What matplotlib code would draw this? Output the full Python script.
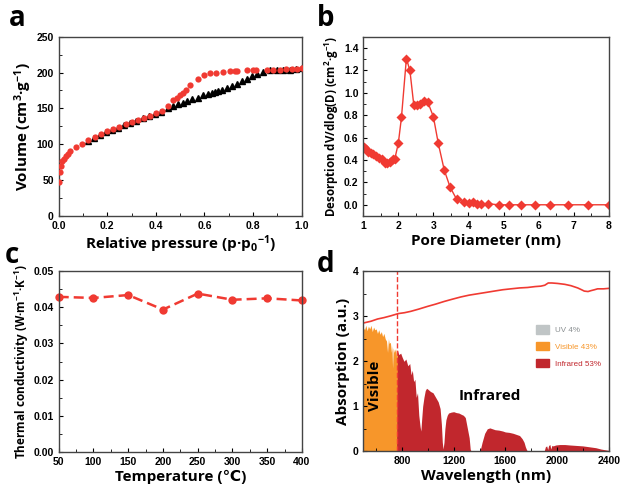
import matplotlib
matplotlib.use('Agg')
import matplotlib.pyplot as plt
from matplotlib.patches import Patch
from matplotlib.ticker import MultipleLocator
import numpy as np

plt.rcParams['font.family'] = ['Liberation Sans', 'DejaVu Sans']
plt.rcParams['font.weight'] = 'bold'
plt.rcParams['mathtext.fontset'] = 'custom'
plt.rcParams['mathtext.bf'] = 'Open Sans:bold'
plt.rcParams['mathtext.rm'] = 'Open Sans:bold'
plt.rcParams['mathtext.default'] = 'bf'

RED = '#f03a32'

# ---- a: N2 isotherm
des_x = [0.003, 0.006, 0.01, 0.015, 0.021, 0.028, 0.037, 0.047, 0.071, 0.095, 0.122,
         0.15, 0.174, 0.2, 0.225, 0.25, 0.277, 0.3, 0.325, 0.351, 0.376, 0.4, 0.427,
         0.451, 0.472, 0.486, 0.5, 0.513, 0.524, 0.54, 0.575, 0.598, 0.623, 0.647,
         0.675, 0.705, 0.726, 0.735, 0.776, 0.8, 0.812, 0.856, 0.883, 0.91, 0.935,
         0.96, 0.98, 1.0]
des_y = [47, 62, 70, 76, 80, 84, 87, 90, 96, 100, 106, 110, 114, 118, 121, 124, 128,
         131, 134, 137, 140, 143, 147, 153, 162, 165, 169, 172, 176, 183, 191, 196,
         199, 200, 201, 202, 202, 202, 203, 203, 203, 204, 204, 204, 205, 205, 205, 206]
ads_x = [0.12, 0.145, 0.17, 0.195, 0.22, 0.245, 0.27, 0.295, 0.32, 0.345, 0.37, 0.395,
         0.42, 0.451, 0.472, 0.492, 0.51, 0.53, 0.55, 0.573, 0.595, 0.616, 0.63, 0.643,
         0.657, 0.671, 0.691, 0.712, 0.733, 0.753, 0.774, 0.794, 0.818, 0.842, 0.87,
         0.897, 0.925, 0.952, 0.975, 1.0]
ads_y = [105, 109, 113, 117, 120, 123, 127, 130, 133, 136, 139, 142, 145, 151, 153,
         156, 158, 160, 163, 164, 168, 170, 172, 173, 174, 176, 178, 181, 184, 188,
         191, 195, 198, 201, 203, 203, 204, 204, 205, 206]

# ---- b: pore size distribution
pore_d = [1.03, 1.08, 1.14, 1.22, 1.29, 1.37, 1.46, 1.53, 1.62, 1.69, 1.77, 1.84, 1.90,
          2.0, 2.09, 2.23, 2.33, 2.44, 2.53, 2.63, 2.72, 2.84, 3.0, 3.14, 3.31, 3.48,
          3.66, 3.88, 4.03, 4.14, 4.24, 4.36, 4.57, 4.86, 5.17, 5.5, 5.9, 6.33, 6.83,
          7.4, 8.0]
pore_v = [0.518, 0.494, 0.474, 0.465, 0.453, 0.435, 0.417, 0.405, 0.375, 0.369, 0.384,
          0.405, 0.41, 0.548, 0.78, 1.305, 1.2, 0.894, 0.888, 0.9, 0.923, 0.917, 0.786,
          0.548, 0.31, 0.155, 0.051, 0.024, 0.018, 0.024, 0.006, 0.003, 0.009, 0.0,
          0.0, 0.0, 0.0, 0.0, 0.0, 0.0, 0.0]

# ---- c: thermal conductivity
temp = [50, 100, 150, 200, 250, 300, 350, 400]
cond = [0.0428, 0.0425, 0.0433, 0.0393, 0.0437, 0.0420, 0.0424, 0.0418]

# ---- d: absorption and solar spectrum
abs_wl = [500, 560, 611, 660, 713, 771, 820, 868, 930, 998, 1060, 1127, 1190, 1256,
          1320, 1385, 1450, 1514, 1580, 1643, 1710, 1772, 1830, 1875, 1905, 1932, 1960,
          2004, 2060, 2108, 2160, 2190, 2211, 2240, 2263, 2290, 2314, 2360, 2400]
abs_val = [2.85, 2.89, 2.94, 2.97, 3.01, 3.06, 3.08, 3.11, 3.16, 3.22, 3.27, 3.33, 3.38,
           3.43, 3.47, 3.5, 3.53, 3.56, 3.59, 3.61, 3.63, 3.64, 3.66, 3.67, 3.69, 3.74,
           3.74, 3.73, 3.71, 3.68, 3.63, 3.59, 3.56, 3.55, 3.57, 3.59, 3.61, 3.61, 3.62]
sun_wl = [500, 510, 520, 530, 540, 550, 560, 570, 580, 590, 600, 610, 620, 630, 640,
          650, 660, 670, 680, 688, 695, 700, 710, 718, 722, 727, 732, 740, 750, 758,
          765, 775, 790, 800, 815, 830, 845, 860, 870, 880, 890, 900, 910, 920, 930,
          940, 946, 952, 960, 970, 980, 990, 1000, 1020, 1040, 1060, 1080, 1095, 1105,
          1112, 1118, 1125, 1132, 1140, 1150, 1160, 1180, 1200, 1220, 1240, 1260, 1275,
          1290, 1300, 1310, 1320, 1328, 1335, 1400, 1410, 1420, 1440, 1460, 1480, 1500,
          1520, 1550, 1580, 1600, 1630, 1660, 1690, 1710, 1730, 1745, 1755, 1765, 1775,
          1900, 1910, 1920, 1928, 1935, 1945, 1952, 1960, 1970, 1990, 2020, 2060, 2100,
          2150, 2200, 2250, 2300, 2340, 2380, 2400]
sun_val = [2.75, 2.7, 2.8, 2.68, 2.78, 2.72, 2.8, 2.66, 2.76, 2.7, 2.72, 2.62, 2.7, 2.6,
           2.66, 2.55, 2.62, 2.5, 2.45, 2.2, 2.5, 2.4, 2.42, 2.2, 2.35, 1.85, 2.3, 2.2,
           2.28, 2.1, 2.25, 2.15, 2.18, 2.1, 2.0, 2.05, 1.9, 1.95, 1.7, 1.8, 1.55, 1.6,
           1.2, 1.3, 0.8, 0.55, 0.45, 0.7, 1.0, 1.2, 1.35, 1.4, 1.38, 1.33, 1.3, 1.2, 1.1,
           0.95, 0.6, 0.2, 0.05, 0.2, 0.5, 0.7, 0.8, 0.85, 0.87, 0.88, 0.86, 0.85, 0.82,
           0.8, 0.75, 0.6, 0.45, 0.3, 0.05, 0.0, 0.0, 0.08, 0.2, 0.4, 0.5, 0.52, 0.5, 0.48,
           0.47, 0.45, 0.43, 0.42, 0.4, 0.37, 0.35, 0.28, 0.2, 0.1, 0.03, 0.0, 0.0, 0.1,
           0.12, 0.04, 0.13, 0.15, 0.05, 0.13, 0.12, 0.14, 0.15, 0.15, 0.14, 0.13, 0.12,
           0.1, 0.08, 0.05, 0.03, 0.02]
vis_edge = 765

fig = plt.figure(figsize=(6.22, 4.86), dpi=100)
ax_a = fig.add_axes([0.0944, 0.5556, 0.3906, 0.3689])
ax_b = fig.add_axes([0.584, 0.5556, 0.3946, 0.3689])
ax_c = fig.add_axes([0.0944, 0.0693, 0.3911, 0.3737])
ax_d = fig.add_axes([0.584, 0.0714, 0.3946, 0.3704])

for ax in (ax_a, ax_b, ax_c, ax_d):
    ax.tick_params(which='both', direction='in', labelsize=7.5, top=False, right=False)
    ax.tick_params(which='major', length=3, width=0.8)
    ax.tick_params(which='minor', length=2, width=0.6)
    for s in ax.spines.values():
        s.set_color('#444444')
        s.set_linewidth(1)

lab_font = dict(family=['Open Sans', 'DejaVu Sans'], fontweight='bold')

# a
ax_a.plot(ads_x, ads_y, '^', color='black', ms=4.5, zorder=2)
ax_a.plot(des_x, des_y, 'o', color=RED, ms=4.5, mec='none', zorder=3)
ax_a.set_xlim(0, 1)
ax_a.set_ylim(0, 250)
ax_a.xaxis.set_major_locator(MultipleLocator(0.2))
ax_a.xaxis.set_minor_locator(MultipleLocator(0.1))
ax_a.yaxis.set_major_locator(MultipleLocator(50))
ax_a.yaxis.set_minor_locator(MultipleLocator(25))
ax_a.set_xlabel(r'Relative pressure (p·p$_0$$^{-1}$)', fontsize=11, labelpad=2, **lab_font)
ax_a.set_ylabel(r'Volume (cm$^3$·g$^{-1}$)', fontsize=11, labelpad=2, **lab_font)

# b
ax_b.plot(pore_d, pore_v, '-D', color=RED, ms=5.5, lw=1, mec='none')
ax_b.set_xlim(1, 8)
ax_b.set_ylim(-0.1, 1.5)
ax_b.xaxis.set_major_locator(MultipleLocator(1))
ax_b.xaxis.set_minor_locator(MultipleLocator(0.5))
ax_b.yaxis.set_minor_locator(MultipleLocator(0.1))
ax_b.set_yticks(np.arange(0, 1.41, 0.2))
ax_b.set_yticklabels(['%.1f' % v for v in np.arange(0, 1.41, 0.2)])
ax_b.set_xlabel('Pore Diameter (nm)', fontsize=11, labelpad=2, **lab_font)
ax_b.set_ylabel(r'Desorption dV/dlog(D) (cm$^2$·g$^{-1}$)', fontsize=8.3, labelpad=2, **lab_font)

# c
ax_c.plot(temp, cond, '--o', color=RED, ms=6, lw=1.8, mec='none', dashes=(4, 2), clip_on=False)
ax_c.set_xlim(50, 400)
ax_c.set_ylim(0, 0.05)
ax_c.xaxis.set_major_locator(MultipleLocator(50))
ax_c.xaxis.set_minor_locator(MultipleLocator(25))
ax_c.yaxis.set_major_locator(MultipleLocator(0.01))
ax_c.yaxis.set_minor_locator(MultipleLocator(0.005))
ax_c.set_xlabel('Temperature (℃)', fontsize=11, labelpad=2, **lab_font)
ax_c.set_ylabel(r'Thermal conductivity (W·m$^{-1}$·K$^{-1}$)', fontsize=8.5, labelpad=2, **lab_font)

# d
wl = np.array(sun_wl)
sv = np.array(sun_val)
ax_d.fill_between(wl, 0, sv, where=wl <= vis_edge, color='#f7962a', lw=0, interpolate=True)
ax_d.fill_between(wl, 0, sv, where=wl >= vis_edge, color='#c1272d', lw=0, interpolate=True)
ax_d.plot(abs_wl, abs_val, color=RED, lw=1.2)
ax_d.axvline(vis_edge, color=RED, lw=1, ls='--')
ax_d.set_xlim(500, 2400)
ax_d.set_ylim(0, 4)
ax_d.set_xticks([800, 1200, 1600, 2000, 2400])
ax_d.xaxis.set_minor_locator(MultipleLocator(200))
ax_d.yaxis.set_major_locator(MultipleLocator(1))
ax_d.yaxis.set_minor_locator(MultipleLocator(0.5))
ax_d.set_xlabel('Wavelength (nm)', fontsize=11, labelpad=2, **lab_font)
ax_d.set_ylabel('Absorption (a.u.)', fontsize=11, labelpad=2, **lab_font)
ax_d.text(590, 1.45, 'Visible', rotation=90, ha='center', va='center', fontsize=11, **lab_font)
ax_d.text(1480, 1.23, 'Infrared', ha='center', va='center', fontsize=11, **lab_font)
handles = [Patch(color='#c0c5c6'), Patch(color='#f7962a'), Patch(color='#c1272d')]
leg = ax_d.legend(handles, ['UV 4%', 'Visible 43%', 'Infrared 53%'], loc='upper right',
                  bbox_to_anchor=(1.0, 0.74), frameon=False, fontsize=5.8,
                  handlelength=1.6, handleheight=1.2, labelspacing=1.0)
for t, c in zip(leg.get_texts(), ['#8a8f91', '#f7962a', '#c1272d']):
    t.set_color(c)
    t.set_fontweight('normal')

for ax in (ax_a, ax_b, ax_c, ax_d):
    for lab in ax.get_xticklabels() + ax.get_yticklabels():
        lab.set_fontweight('bold')

# panel letters
fig.text(0.015, 0.962, 'a', fontsize=20, va='center', **lab_font)
fig.text(0.51, 0.962, 'b', fontsize=20, va='center', **lab_font)
fig.text(0.008, 0.475, 'c', fontsize=20, va='center', **lab_font)
fig.text(0.51, 0.455, 'd', fontsize=20, va='center', **lab_font)

fig.savefig('out.png', dpi=100)
